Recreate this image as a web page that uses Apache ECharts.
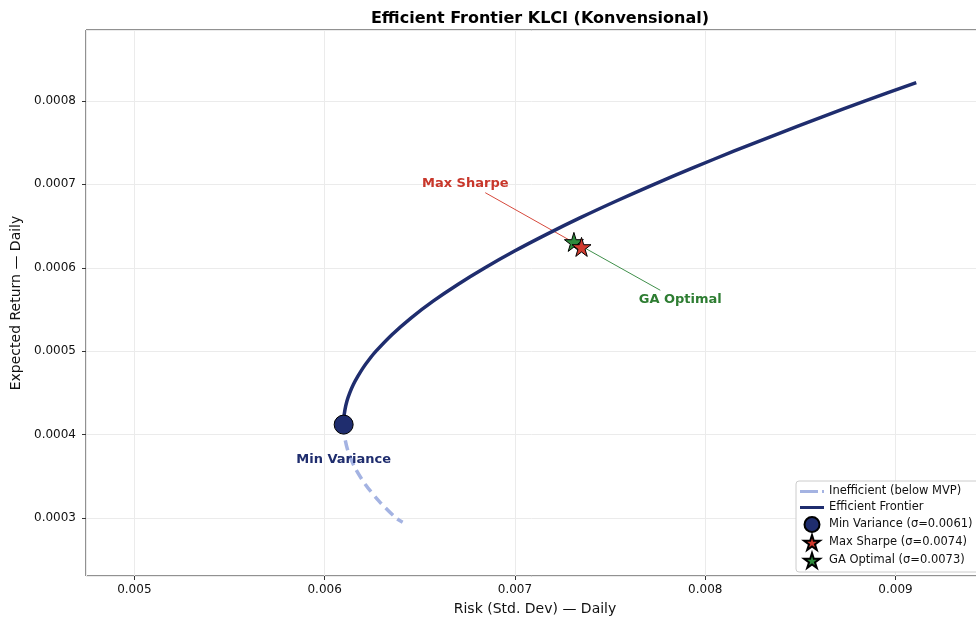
<!DOCTYPE html>
<html lang="en">
<head>
    <meta charset="UTF-8">
    <title>Efficient Frontier KLCI</title>
</head>
<body style="margin:0">
<div id="main" style="width:976px;height:619px;"></div>
<script src="https://cdn.jsdelivr.net/npm/echarts@6/dist/echarts.min.js"></script>
<script>
    // efficient part of the frontier (risk, return)
    var frontierRisk = [0.00610, 0.006101, 0.006107, 0.006117, 0.006132, 0.006151, 0.006175, 0.006202, 0.006234, 0.006270,
        0.006355, 0.006455, 0.006570, 0.006700, 0.006843, 0.006998, 0.007166, 0.007344, 0.007533, 0.007731,
        0.007938, 0.008153, 0.008376, 0.008605, 0.008841, 0.009109];
    var frontierReturn = [0.000412, 0.00042, 0.00043, 0.00044, 0.00045, 0.00046, 0.00047, 0.00048, 0.00049, 0.00050,
        0.00052, 0.00054, 0.00056, 0.00058, 0.00060, 0.00062, 0.00064, 0.00066, 0.00068, 0.00070,
        0.00072, 0.00074, 0.00076, 0.00078, 0.00080, 0.000822];

    // below the minimum variance point
    var inefficientRisk = [0.00610, 0.006103, 0.006123, 0.006160, 0.006215, 0.006287, 0.006375, 0.00641];
    var inefficientReturn = [0.000412, 0.00040, 0.00038, 0.00036, 0.00034, 0.00032, 0.00030, 0.000295];

    var minVar = [0.0061, 0.000412];
    var maxSharpe = [0.00735, 0.000625];
    var gaOptimal = [0.00731, 0.000631];

    // annotation text anchors
    var maxSharpeText = [0.006739, 0.000701];
    var maxSharpeArrowFrom = [0.006844, 0.00069];
    var gaText = [0.007869, 0.000562];
    var gaArrowTo = [0.007764, 0.000573];
    var minVarText = [0.0061, 0.00037];

    var names = ['Inefficient (below MVP)', 'Efficient Frontier', 'Min Variance (σ=0.0061)',
        'Max Sharpe (σ=0.0074)', 'GA Optimal (σ=0.0073)'];

    function pairs(xs, ys) {
        var out = [];
        for (var i = 0; i < xs.length; i++) out.push([xs[i], ys[i]]);
        return out;
    }

    var navy = '#1f2d6e';
    var light = '#a4b3e2';
    var red = '#d13b2e';
    var green = '#2e8b3c';
    var font = 'DejaVu Sans';
    var star = 'path://M50,0 L61,35 L98,35 L68,57 L79,91 L50,70 L21,91 L32,57 L2,35 L39,35 Z';
    // legend icons for the two lines (tiny corner dots keep the 24x15 box)
    var box = 'M0,0 L0.01,0 L0.01,0.01 Z M24,15 L23.99,15 L23.99,14.99 Z ';
    var solidIcon = 'path://' + box + 'M0,6 L24,6 L24,9 L0,9 Z';
    var dashIcon = 'path://' + box + 'M0,6 L18,6 L18,9 L0,9 Z M22,6 L24,6 L24,9 L22,9 Z';

    var myChart = echarts.init(document.getElementById('main'));
    var option = {
        animation: false,
        textStyle: {fontFamily: font},
        title: {
            text: 'Efficient Frontier KLCI (Konvensional)',
            left: 535, top: 6, textAlign: 'center',
            textStyle: {fontFamily: font, fontSize: 16, fontWeight: 'bold', color: '#000'}
        },
        grid: {
            left: 86, top: 30, bottom: 43, right: -8,
            show: true, borderColor: '#222', borderWidth: 1,
            outerBoundsMode: 'none'
        },
        legend: {
            data: [
                {name: names[0], icon: dashIcon},
                {name: names[1], icon: solidIcon},
                {name: names[2]},
                {name: names[3]},
                {name: names[4]}
            ],
            orient: 'vertical',
            left: 796, top: 481,
            padding: [3, 8, 3, 4],
            itemGap: 1,
            itemWidth: 24, itemHeight: 15,
            backgroundColor: '#fff',
            borderColor: '#ccc', borderWidth: 1, borderRadius: 3,
            textStyle: {fontFamily: font, fontSize: 11.5, color: '#111'}
        },
        xAxis: {
            type: 'value',
            min: 0.004746, max: 0.009465,
            splitNumber: 5,
            name: 'Risk (Std. Dev) — Daily',
            nameLocation: 'middle', nameGap: 26,
            nameTextStyle: {fontFamily: font, fontSize: 14, color: '#111'},
            axisLine: {show: false},
            axisTick: {show: true, length: 4, lineStyle: {color: '#333'}},
            axisLabel: {
                fontFamily: font, fontSize: 12, color: '#111', margin: 8,
                showMinLabel: false, showMaxLabel: false,
                formatter: function (v) {
                    var r = Math.round(v * 1000) / 1000;
                    return Math.abs(r - v) < 1e-9 ? r.toFixed(3) : '';
                }
            },
            splitLine: {show: true, lineStyle: {color: '#ebebeb'}}
        },
        yAxis: {
            type: 'value',
            min: 0.0002305, max: 0.000885,
            splitNumber: 5,
            name: 'Expected Return — Daily',
            nameLocation: 'middle', nameGap: 50,
            nameTextStyle: {fontFamily: font, fontSize: 14, color: '#111'},
            axisLine: {show: false},
            axisTick: {show: true, length: 4, lineStyle: {color: '#333'}},
            axisLabel: {
                fontFamily: font, fontSize: 12, color: '#111', margin: 10,
                showMinLabel: false, showMaxLabel: false,
                formatter: function (v) {
                    var r = Math.round(v * 10000) / 10000;
                    return Math.abs(r - v) < 1e-10 ? r.toFixed(4) : '';
                }
            },
            splitLine: {show: true, lineStyle: {color: '#ebebeb'}}
        },
        series: [
            {
                name: 'arrowMaxSharpe', type: 'line', silent: true, symbol: 'none', z: 1,
                data: [maxSharpeArrowFrom, maxSharpe],
                lineStyle: {color: '#d6493c', width: 1}
            },
            {
                name: 'arrowGA', type: 'line', silent: true, symbol: 'none', z: 1,
                data: [gaOptimal, gaArrowTo],
                lineStyle: {color: '#3f8f4a', width: 1}
            },
            {
                name: names[0], type: 'line', symbol: 'none', z: 2,
                data: pairs(inefficientRisk, inefficientReturn),
                smooth: 0.3,
                itemStyle: {color: light},
                lineStyle: {color: light, width: 3.5, type: [10, 6]}
            },
            {
                name: names[1], type: 'line', symbol: 'none', z: 3,
                data: pairs(frontierRisk, frontierReturn),
                smooth: 0.3,
                itemStyle: {color: navy},
                lineStyle: {color: navy, width: 3.5}
            },
            {
                name: names[2], type: 'scatter', z: 5,
                data: [minVar],
                symbol: 'circle', symbolSize: 19,
                itemStyle: {color: navy, borderColor: '#000', borderWidth: 1, opacity: 1}
            },
            {
                name: names[4], type: 'scatter', z: 5,
                data: [gaOptimal],
                symbol: star, symbolSize: 19,
                itemStyle: {color: green, borderColor: '#000', borderWidth: 1, opacity: 1}
            },
            {
                name: names[3], type: 'scatter', z: 6,
                data: [maxSharpe],
                symbol: star, symbolSize: 19,
                itemStyle: {color: red, borderColor: '#000', borderWidth: 1, opacity: 1}
            },
            {
                name: 'notes', type: 'scatter', silent: true, z: 7,
                symbolSize: 0,
                itemStyle: {opacity: 1},
                label: {
                    show: true, position: 'inside', formatter: '{b}',
                    fontFamily: font, fontSize: 13, fontWeight: 'bold'
                },
                data: [
                    {name: 'Max Sharpe', value: maxSharpeText, label: {color: '#c8372b'}},
                    {name: 'GA Optimal', value: gaText, label: {color: '#2e7d32'}},
                    {name: 'Min Variance', value: minVarText, label: {color: navy}}
                ]
            }
        ]
    };
    myChart.setOption(option);
</script>
</body>
</html>
